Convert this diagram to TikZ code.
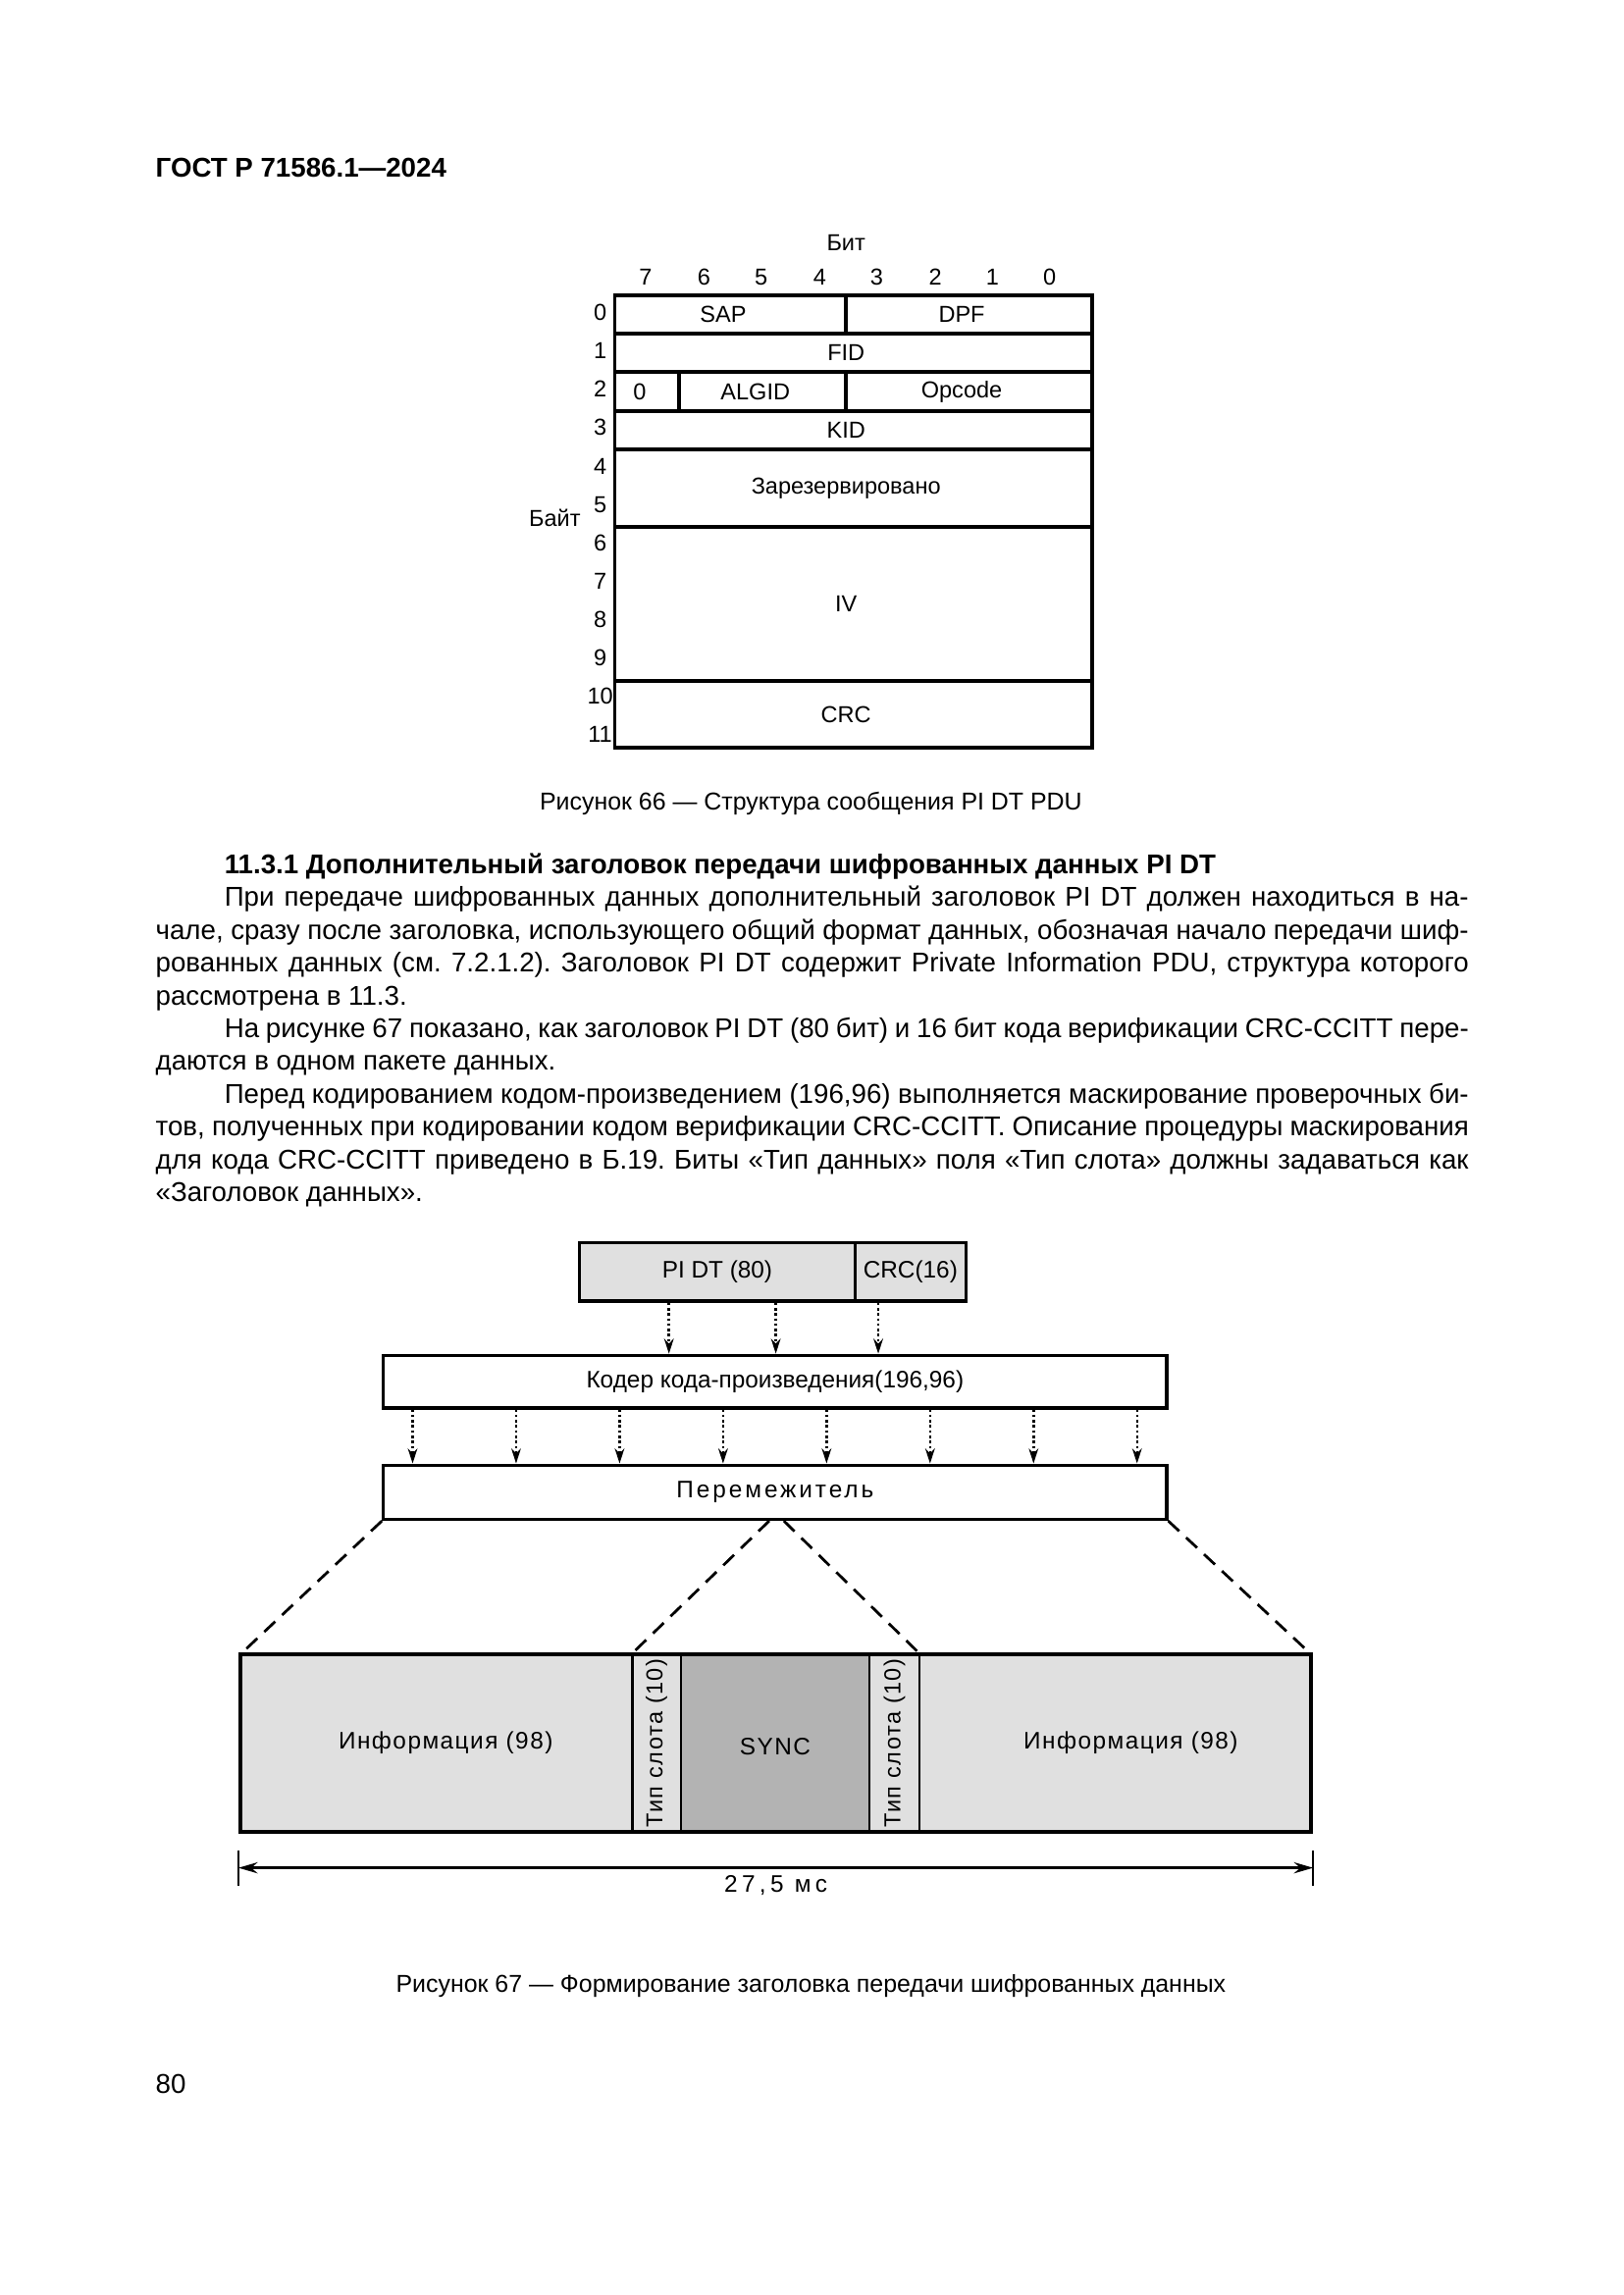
\documentclass[tikz,border=0pt]{standalone}
\usepackage{fontspec}
\setmainfont{Liberation Sans}
\newfontfamily\spacedfont[LetterSpace=12]{Liberation Sans}
\newfontfamily\widefont[LetterSpace=18]{Liberation Sans}
\newfontfamily\infofont[LetterSpace=6]{Liberation Sans}
\usetikzlibrary{arrows.meta, positioning, fit, calc}
\definecolor{LightFill}{HTML}{E0E0E0}
\definecolor{SyncFill}{HTML}{B3B3B3}
\newlength\pxl
\setlength\pxl{0.18936mm}
\newcommand{\bodyfont}{\fontsize{10}{12}\selectfont}
\newcommand{\figfont}{\fontsize{8.5}{10}\selectfont}
\newcommand{\blkfont}{\fontsize{8.8}{10}\selectfont}
\newcommand{\capfont}{\fontsize{9}{11}\selectfont}
\frenchspacing

\begin{document}
\begin{tikzpicture}[x=0.18936mm, y=-0.18936mm,
  fld/.style={draw, line width=1.4pt, inner sep=0pt, label={[font=\figfont, xshift=-5\pxl]center:#1}},
  blk/.style={draw, line width=1.2pt, inner sep=0pt, label={[font=\blkfont]center:#1}},
  cell/.style={draw, line width=0.8pt, inner sep=0pt},
  darr/.style={densely dotted, line width=0.9pt, -{Stealth[length=5.5pt,width=3.5pt]}},
  slant/.style={line width=1pt, dash pattern=on 5.5pt off 3.5pt},
  txt/.style={anchor=base west, inner sep=0pt, font=\bodyfont}]
  \fill[white] (0,0) rectangle (1109,1568);
  \useasboundingbox (0,0) rectangle (1109,1568);

  \node[txt, font=\bodyfont\bfseries] (hdr) at (106,121) {ГОСТ Р 71586.1—2024};

  % Figure 66
  \node[font=\figfont] (bitlbl) at (578,166) {Бит};
  \foreach \b/\x in {7/441,6/481,5/520,4/560,3/599,2/639,1/678,0/717}
    \node[font=\figfont, anchor=base] (bit\b) at (\x,195) {\b};
  \foreach \r in {0,...,11}
    \node[font=\figfont, anchor=base] (byte\r) at (410,{219+\r*26.2}) {\r};
  \node[font=\figfont] (bytelbl) at (379,354) {Байт};

  \node[fld=SAP, fit={(420,202) (578,228)}] (sap) {};
  \node[fld=DPF, fit={(578,202) (746,228)}] (dpf) {};
  \node[fld=FID, fit={(420,228) (746,254)}] (fid) {};
  \node[fld=0, fit={(420,254) (464,281)}] (zero) {};
  \node[fld=ALGID, fit={(464,254) (578,281)}] (algid) {};
  \node[fld=Opcode, fit={(578,254) (746,281)}] (opcode) {};
  \node[fld=KID, fit={(420,281) (746,307)}] (kid) {};
  \node[fld=Зарезервировано, fit={(420,307) (746,360)}] (rsv) {};
  \node[fld=IV, fit={(420,360) (746,465)}] (iv) {};
  \node[fld=CRC, fit={(420,465) (746,511)}] (crcf) {};

  \node[font=\capfont] (cap66) at (554,549) {Рисунок 66 — Структура сообщения PI DT PDU};

  % text
  \node[txt, font=\bodyfont\bfseries] (sec) at (153,597)
    {11.3.1 Дополнительный заголовок передачи шифрованных данных PI DT};
  \foreach \y/\x/\w/\t in {
    619/153/850/{При передаче шифрованных данных дополнительный заголовок PI DT должен находиться в на-},
    642/106/897/{чале, сразу после заголовка, использующего общий формат данных, обозначая начало передачи шиф-},
    664/106/897/{рованных данных (см. 7.2.1.2). Заголовок PI DT содержит Private Information PDU, структура которого},
    687/106/0/{рассмотрена в 11.3.},
    709/153/850/{На рисунке 67 показано, как заголовок PI DT (80 бит) и 16 бит кода верификации CRC-CCITT пере-},
    731/106/0/{даются в одном пакете данных.},
    754/153/850/{Перед кодированием кодом-произведением (196,96) выполняется маскирование проверочных би-},
    776/106/897/{тов, полученных при кодировании кодом верификации CRC-CCITT. Описание процедуры маскирования},
    799/106/897/{для кода CRC-CCITT приведено в Б.19. Биты «Тип данных» поля «Тип слота» должны задаваться как},
    821/106/0/{«Заголовок данных».}
  }{
    \node[txt] (line\y) at (\x,\y) {\ifnum\w=0 \t\else\makebox[\w\pxl][s]{\t}\fi};
  }

  % Figure 67
  \node[blk={PI DT (80)}, fill=LightFill, fit={(396,849) (584,889)}] (pidt) {};
  \node[blk={CRC(16)}, fill=LightFill, fit={(584,849) (660,889)}] (crc) {};
  \node[blk={Кодер кода-произведения(196,96)}, fit={(262,926) (797,962)}] (coder) {};
  \node[blk={\spacedfont Перемежитель}, fit={(262,1001) (797,1038)}] (ilv) {};

  \foreach \x/\src [count=\k] in {457/pidt,530/pidt,600/crc}{
    \coordinate (in\k) at (\x,900);
    \draw[darr] (\src.south -| in\k) -- (coder.north -| in\k);
  }
  \foreach \k in {0,...,7}{
    \path (coder.south west) ++({21+\k*70.7},0) coordinate (out\k);
    \draw[darr] (out\k) -- (ilv.north -| out\k);
  }

  \node[cell, fill=LightFill, fit={(165,1131) (432,1251)},
    label={[font=\blkfont\infofont, xshift=6\pxl]center:Информация (98)}] (info1) {};
  \node[cell, fill=LightFill, fit={(432,1131) (465,1251)}] (slot1) {};
  \node[cell, fill=SyncFill, fit={(465,1131) (594,1251)},
    label={[font=\blkfont\infofont, yshift=-2\pxl]center:SYNC}] (sync) {};
  \node[cell, fill=LightFill, fit={(594,1131) (628,1251)}] (slot2) {};
  \node[cell, fill=LightFill, fit={(628,1131) (895,1251)},
    label={[font=\blkfont\infofont, xshift=11\pxl]center:Информация (98)}] (info2) {};
  \node[draw, line width=1.5pt, inner sep=0pt, fit=(info1)(info2)] (frame) {};
  \node[rotate=90, font=\fontsize{8.5}{10}\selectfont\infofont] (slot1lbl) at (slot1.center) {Тип слота (10)};
  \node[rotate=90, font=\fontsize{8.5}{10}\selectfont\infofont] (slot2lbl) at (slot2.center) {Тип слота (10)};

  \coordinate (apL) at ([xshift=-4\pxl]ilv.south);
  \coordinate (apR) at ([xshift=6\pxl]ilv.south);
  \draw[slant] (ilv.south west) -- (info1.north west);
  \draw[slant] (apL) -- (slot1.north west);
  \draw[slant] (apR) -- (slot2.north east);
  \draw[slant] (ilv.south east) -- (info2.north east);

  \coordinate (tickL) at ([yshift=-11\pxl]frame.south west);
  \coordinate (tickR) at ([yshift=-11\pxl]frame.south east);
  \draw[line width=0.8pt] (tickL) -- ++(0,24);
  \draw[line width=0.8pt] (tickR) -- ++(0,24);
  \coordinate (dimL) at ([yshift=-23\pxl]frame.south west);
  \coordinate (dimR) at ([yshift=-23\pxl]frame.south east);
  \draw[line width=1.3pt, {Stealth[length=7pt,width=4pt]}-{Stealth[length=7pt,width=4pt]}] (dimL) -- (dimR);
  \node[font=\blkfont\widefont] (dimtxt) at ($(dimL)!0.5!(dimR)+(0,12)$) {27,5 мс};

  \node[font=\capfont] (cap67) at (554,1357) {Рисунок 67 — Формирование заголовка передачи шифрованных данных};
  \node[txt] (pnum) at (106,1430) {80};
\end{tikzpicture}
\end{document}
